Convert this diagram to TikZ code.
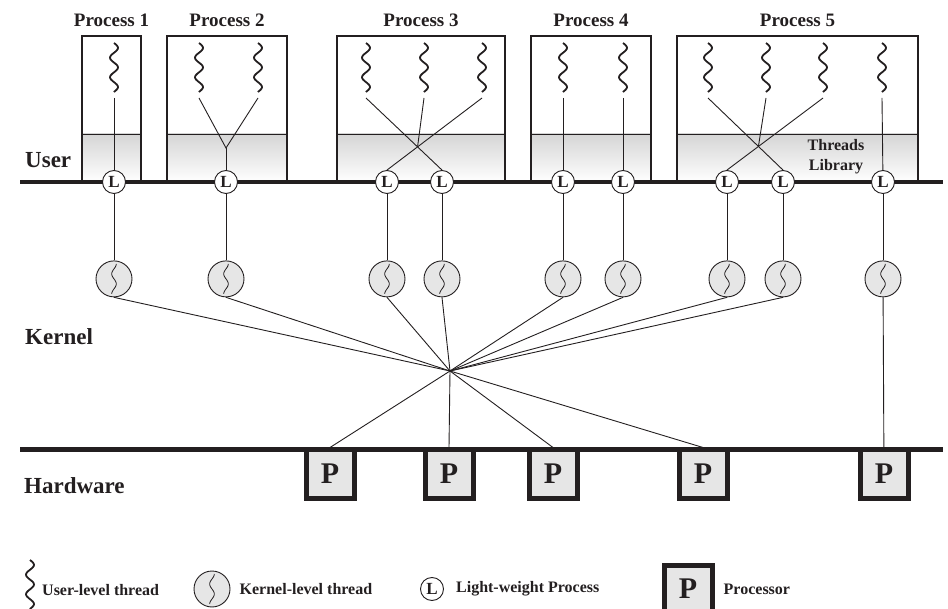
\documentclass[tikz,border=0pt]{standalone}
\usepackage{fontspec}
\setmainfont{Liberation Serif}
\usepackage{tikz}
\usetikzlibrary{positioning}

\definecolor{shade}{HTML}{E6E6E6}
\definecolor{ink}{HTML}{231F20}

\tikzset{
  proc/.style={draw=ink, line width=2.5pt, minimum height=146pt, inner sep=0pt,
    path picture={
      \fill[shade] (path picture bounding box.south west) rectangle ([yshift=48pt]path picture bounding box.south east);
      \draw[ink, line width=0.9pt] ([yshift=48pt]path picture bounding box.south west) -- ([yshift=48pt]path picture bounding box.south east);
    }},
  ttl/.style={font=\fontsize{19}{22}\selectfont\bfseries, text=ink, inner sep=0pt},
  lvl/.style={font=\fontsize{23}{26}\selectfont\bfseries, text=ink, inner sep=0pt, anchor=west},
  lwp/.style={circle, draw=ink, fill=white, line width=0.9pt, minimum size=23pt, inner sep=0pt,
    font=\fontsize{17}{17}\selectfont\bfseries, text=ink},
  kthread/.style={circle, draw=ink, fill=shade, line width=0.9pt, minimum size=36pt, inner sep=0pt,
    path picture={\draw[ink, line width=0.8pt, shift={(path picture bounding box.center)}]
      plot[smooth, domain=-15:15, samples=31] ({2.3*sin(\x*18)}, \x);}},
  cpu/.style={draw=ink, fill=shade, line width=5pt, minimum size=48pt, inner sep=0pt,
    font=\fontsize{30}{30}\selectfont\bfseries, text=ink},
  legend/.style={font=\fontsize{16}{18}\selectfont\bfseries, text=ink, inner sep=0pt, anchor=west},
  level/.style={draw=ink, line width=4.5pt},
  wire/.style={draw=ink, line width=0.9pt},
  uthread/.pic={
    \draw[ink, line width=1.8pt] plot[smooth, domain=0:49, samples=41] ({4*sin(\x*18.4)}, \x);
    \coordinate (-e) at (0,55);
  },
}

\begin{document}
\begin{tikzpicture}[x=1pt, y=-1pt, node distance=66.5pt, label distance=8pt]

    \useasboundingbox (0,0) rectangle (948,609);

    % 1. Process boxes, names on top
    \node[proc, minimum width=59pt,  label={[ttl]above:Process 1}] (P1) at (111.5,109) {};
    \node[proc, minimum width=120pt, label={[ttl]above:Process 2}] (P2) at (227,109) {};
    \node[proc, minimum width=168pt, label={[ttl]above:Process 3}] (P3) at (421,109) {};
    \node[proc, minimum width=120pt, label={[ttl]above:Process 4}] (P4) at (591,109) {};
    \node[proc, minimum width=241pt, label={[ttl]above:Process 5}] (P5) at (797.5,109) {};
    \node[ttl, font=\fontsize{16}{20}\selectfont\bfseries, align=center] (lib) at (836,157) {Threads\\Library};

    % 2. User and hardware levels
    \draw[level] (20,182) -- (943,182);
    \draw[level] (20,449.5) -- (943,449.5);
    \node[lvl] (user) at (25,160) {User};
    \node[lvl] (kernel) at (25,337) {Kernel};
    \node[lvl] (hw) at (24,486) {Hardware};

    % 3. Light-weight processes
    \node[lwp] (L1) at (114,182) {L};
    \node[lwp] (L2) at (226,182) {L};
    \node[lwp] (L3a) at (387,182) {L};
    \node[lwp] (L3b) at (442,182) {L};
    \node[lwp] (L4a) at (563,182) {L};
    \node[lwp] (L4b) at (623,182) {L};
    \node[lwp] (L5a) at (727,182) {L};
    \node[lwp] (L5b) at (783,182) {L};
    \node[lwp] (L5c) at (883,182) {L};

    % 4. Kernel threads
    \node[kthread] (K1) [below=of L1] {};
    \node[kthread] (K2) [below=of L2] {};
    \node[kthread] (K3) [below=of L3a] {};
    \node[kthread] (K4) [below=of L3b] {};
    \node[kthread] (K5) [below=of L4a] {};
    \node[kthread] (K6) [below=of L4b] {};
    \node[kthread] (K7) [below=of L5a] {};
    \node[kthread] (K8) [below=of L5b] {};
    \node[kthread] (K9) [below=of L5c] {};

    % 5. Processors
    \node[cpu] (C1) at (330,474) {P};
    \node[cpu] (C2) at (449,474) {P};
    \node[cpu] (C3) at (553,474) {P};
    \node[cpu] (C4) at (703,474) {P};
    \node[cpu] (C5) at (884,474) {P};
    \coordinate (hub) at (450,371);

    % 6. User-level threads
    \pic (T1) at (114,43) {uthread};
    \pic (T2a) at (199,43) {uthread};
    \pic (T2b) at (258,43) {uthread};
    \pic (T3a) at (366,43) {uthread};
    \pic (T3b) at (424,43) {uthread};
    \pic (T3c) at (482,43) {uthread};
    \pic (T4a) at (563,43) {uthread};
    \pic (T4b) at (623,43) {uthread};
    \pic (T5a) at (708,43) {uthread};
    \pic (T5b) at (766,43) {uthread};
    \pic (T5c) at (823,43) {uthread};
    \pic (T5d) at (882,43) {uthread};

    % 7. User threads to LWPs
    \draw[wire] (T1-e) -- (L1);
    \coordinate (J2) at (226,148);
    \draw[wire] (T2a-e) -- (J2) -- (T2b-e);
    \draw[wire] (J2) -- (L2);
    \coordinate (X3) at (intersection of T3a-e--L3b.north and T3c-e--L3a.north);
    \draw[wire] (T3a-e) -- (L3b.north);
    \draw[wire] (T3c-e) -- (L3a.north);
    \draw[wire] (T3b-e) -- (X3);
    \draw[wire] (T4a-e) -- (L4a);
    \draw[wire] (T4b-e) -- (L4b);
    \coordinate (X5) at (intersection of T5a-e--L5b.north and T5c-e--L5a.north);
    \draw[wire] (T5a-e) -- (L5b.north);
    \draw[wire] (T5c-e) -- (L5a.north);
    \draw[wire] (T5b-e) -- (X5);
    \draw[wire] (T5d-e) -- (L5c);

    % 8. LWPs to kernel threads
    \draw[wire] (L1) -- (K1);
    \draw[wire] (L2) -- (K2);
    \draw[wire] (L3a) -- (K3);
    \draw[wire] (L3b) -- (K4);
    \draw[wire] (L4a) -- (K5);
    \draw[wire] (L4b) -- (K6);
    \draw[wire] (L5a) -- (K7);
    \draw[wire] (L5b) -- (K8);
    \draw[wire] (L5c) -- (K9);

    % 9. Kernel threads to processors
    \draw[wire] (K1.south) -- (hub);
    \draw[wire] (K2.south) -- (hub);
    \draw[wire] (K3.south) -- (hub);
    \draw[wire] (K4.south) -- (hub);
    \draw[wire] (K5.south) -- (hub);
    \draw[wire] (K6.south) -- (hub);
    \draw[wire] (K7.south) -- (hub);
    \draw[wire] (K8.south) -- (hub);
    \draw[wire] (hub) -- (C1.north);
    \draw[wire] (hub) -- (C2.north);
    \draw[wire] (hub) -- (C3.north);
    \draw[wire] (hub) -- (C4.north);
    \draw[wire] (K9) -- (C5);

    % 10. Legend
    \pic at (30,560) {uthread};
    \node[legend] (lg1) at (42,590) {User-level thread};
    \node[kthread] (lgk) at (212,589) {};
    \node[legend] (lg2) [right=9pt of lgk] {Kernel-level thread};
    \node[lwp] (lgl) at (432,589) {L};
    \node[legend] (lg3) [right=12pt of lgl] {Light-weight Process};
    \node[cpu] (lgc) at (688,589) {P};
    \node[legend] (lg4) [right=9pt of lgc] {Processor};
\end{tikzpicture}
\end{document}
